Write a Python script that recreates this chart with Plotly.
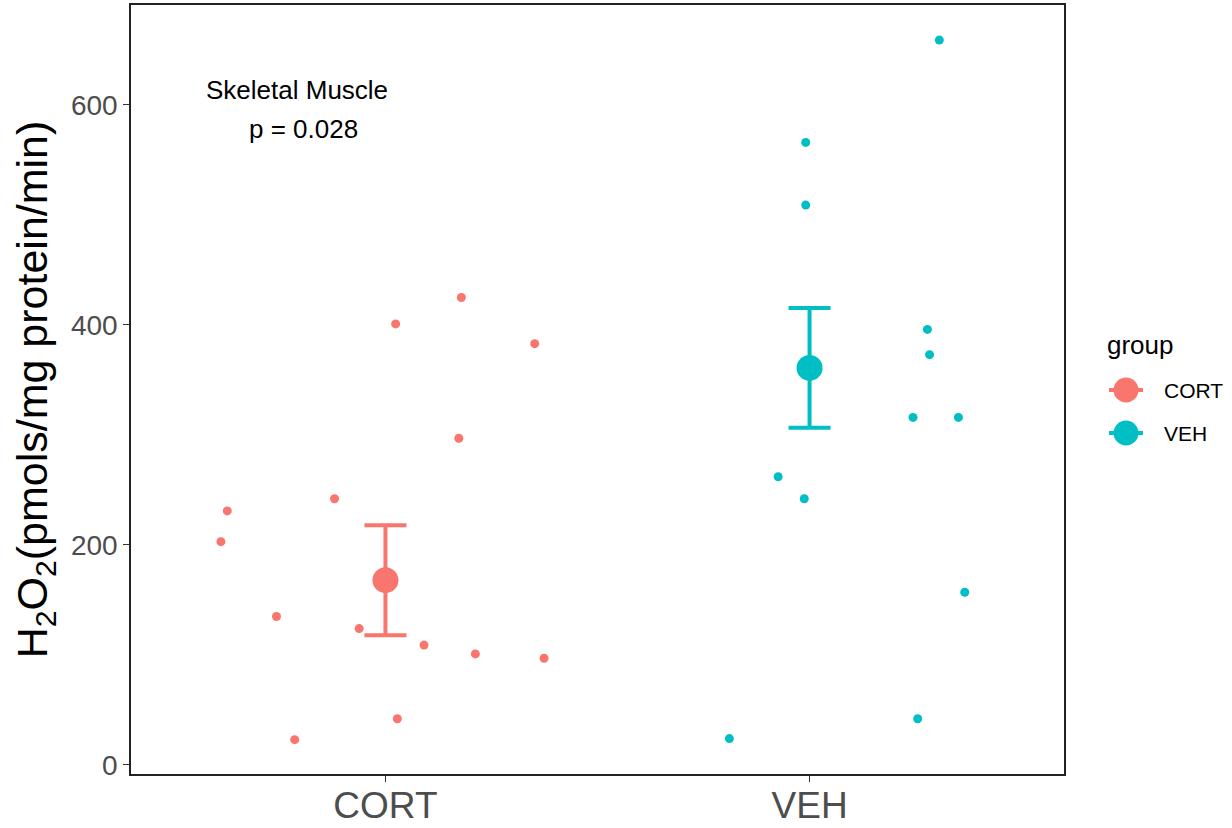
import plotly.graph_objects as go

# Groups and their colours
groups = ["CORT", "VEH"]
colors = {"CORT": "#F8766D", "VEH": "#00BFC4"}

# Individual measurements (pmols/mg protein/min) with horizontal jitter offsets
cort_values = [425, 401, 383, 297, 242, 231, 203, 135, 124, 109, 101, 97, 42, 23]
cort_jitter = [0.179, 0.024, 0.352, 0.173, -0.120, -0.373, -0.388, -0.257, -0.062, 0.091, 0.212, 0.374, 0.028, -0.214]

veh_values = [659, 566, 509, 396, 373, 316, 316, 262, 242, 157, 42, 24]
veh_jitter = [0.306, -0.009, -0.009, 0.278, 0.283, 0.244, 0.351, -0.074, -0.0125, 0.366, 0.255, -0.189]

# Group summary: mean and error-bar limits
means = [168, 361]
upper = [218, 415.5]
lower = [118, 306.5]

# Annotation lines
note_lines = ["Skeletal Muscle", "p = 0.028"]

values = {"CORT": cort_values, "VEH": veh_values}
jitters = {"CORT": cort_jitter, "VEH": veh_jitter}

FONT = "Liberation Sans, Arial, sans-serif"
W, H = 1232, 828
M_L, M_R, M_T, M_B = 131, 168, 5, 54
PLOT_W = W - M_L - M_R
PLOT_H = H - M_T - M_B


def px_to_paper(px, py):
    """Convert page pixel position to paper coordinates."""
    return (px - M_L) / PLOT_W, 1 - (py - M_T) / PLOT_H


fig = go.Figure()

for i, g in enumerate(groups):
    pos = i + 1
    fig.add_trace(go.Scatter(
        x=[pos + j for j in jitters[g]],
        y=values[g],
        mode="markers",
        marker=dict(size=9, color=colors[g]),
        showlegend=False,
        hoverinfo="y",
    ))

for i, g in enumerate(groups):
    pos = i + 1
    fig.add_trace(go.Scatter(
        x=[pos],
        y=[means[i]],
        mode="markers",
        name=g,
        showlegend=False,
        marker=dict(size=26, color=colors[g]),
        error_y=dict(
            type="data",
            symmetric=False,
            array=[upper[i] - means[i]],
            arrayminus=[means[i] - lower[i]],
            color=colors[g],
            thickness=4,
            width=21,
        ),
    ))

# Two-line label in the upper-left of the panel
fig.add_annotation(
    x=0.7925, y=614, xref="x", yref="y",
    text=note_lines[0], showarrow=False,
    font=dict(family=FONT, size=26, color="black"),
)
fig.add_annotation(
    x=0.8066, y=578, xref="x", yref="y",
    text=note_lines[1], showarrow=False,
    font=dict(family=FONT, size=26, color="black"),
)

# Legend: title, point-range keys and labels
tx, ty = px_to_paper(1105, 345)
fig.add_annotation(
    x=tx, y=ty, xref="paper", yref="paper", xanchor="left", yanchor="middle",
    text="group", showarrow=False,
    font=dict(family=FONT, size=26, color="black"),
)
key_x = 1126
key_rows = [390, 433]
for g, ky in zip(groups, key_rows):
    kx, kyp = px_to_paper(key_x, ky)
    fig.add_shape(
        type="line", xref="paper", yref="paper",
        xsizemode="pixel", ysizemode="pixel", xanchor=kx, yanchor=kyp,
        x0=-17, x1=17, y0=0, y1=0,
        line=dict(color=colors[g], width=4),
    )
    fig.add_shape(
        type="circle", xref="paper", yref="paper",
        xsizemode="pixel", ysizemode="pixel", xanchor=kx, yanchor=kyp,
        x0=-12.5, x1=12.5, y0=-12.5, y1=12.5,
        fillcolor=colors[g], line=dict(width=0),
    )
    lx, ly = px_to_paper(1162, ky)
    fig.add_annotation(
        x=lx, y=ly, xref="paper", yref="paper", xanchor="left", yanchor="middle",
        text=g, showarrow=False,
        font=dict(family=FONT, size=21, color="black"),
    )

fig.update_layout(
    width=W, height=H,
    margin=dict(l=M_L, r=M_R, t=M_T, b=M_B),
    plot_bgcolor="white",
    paper_bgcolor="white",
    font=dict(family=FONT),
    showlegend=False,
)

fig.update_xaxes(
    range=[0.4, 2.6],
    tickmode="array",
    tickvals=[1, 2],
    ticktext=groups,
    tickfont=dict(size=37, color="#4D4D4D"),
    ticks="outside", ticklen=6, tickcolor="#333333", tickwidth=1,
    ticklabelstandoff=-8,
    showline=True, linecolor="#222222", linewidth=1.5, mirror=True,
    showgrid=False, zeroline=False,
    automargin=False,
)

fig.update_yaxes(
    range=[-8.2, 690.9],
    tickvals=[0, 200, 400, 600],
    tickfont=dict(size=28, color="#4D4D4D"),
    ticks="outside", ticklen=6, tickcolor="#333333", tickwidth=1,
    showline=True, linecolor="#222222", linewidth=1.5, mirror=True,
    showgrid=False, zeroline=False,
    automargin=False,
    title=dict(
        text="H<sub>2</sub>O<sub>2</sub>(pmols/mg protein/min)",
        font=dict(size=43, color="black"),
        standoff=10,
    ),
)

fig.write_html("out.html")
